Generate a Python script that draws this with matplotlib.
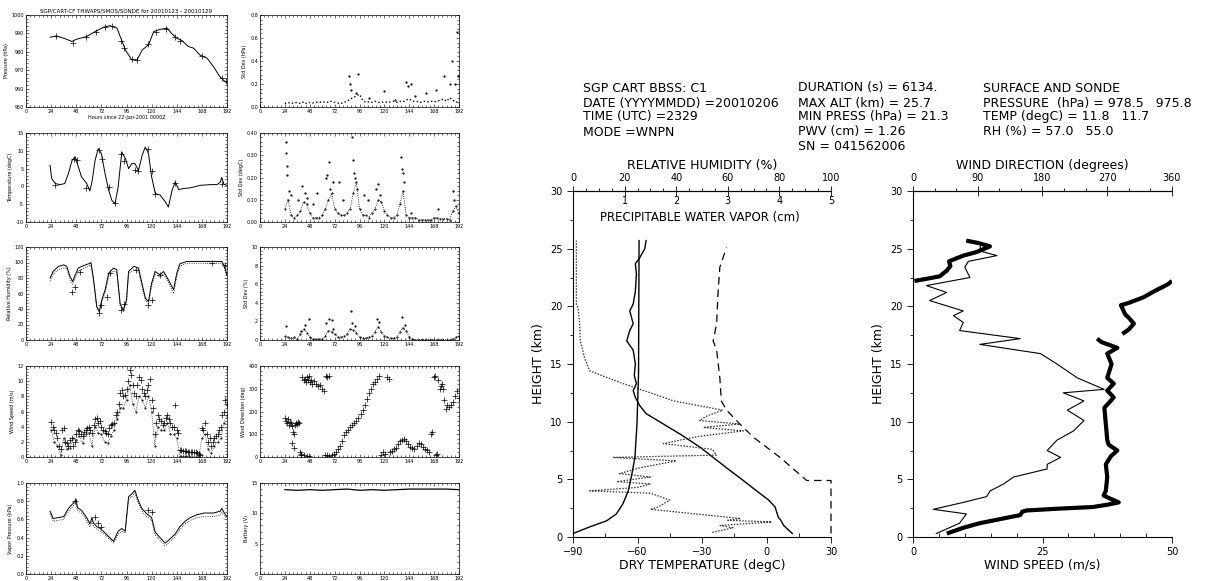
import matplotlib
matplotlib.use('Agg')
import matplotlib.pyplot as plt
from matplotlib.ticker import MultipleLocator, FormatStrFormatter

W, H = 1216, 581

# ---- small time-series panels (hours since 22-Jan-2001 0000Z) ----
SAMPLE_HOURS = [24, 27, 30, 33, 36, 39, 42, 45, 48, 51, 54, 57, 60, 63, 66, 69, 72, 75, 78, 81,
                84, 87, 90, 93, 96, 99, 102, 105, 108, 111, 114, 117, 120, 123, 126, 129, 132,
                135, 138, 141, 144, 147, 150, 153, 156, 159, 162, 165, 168, 171, 174, 177, 180,
                183, 186, 189, 192]
MID_HOURS = [25.5, 28.5, 31.5, 34.5, 37.5, 40.5, 43.5, 46.5, 49.5, 52.5, 55.5, 58.5, 61.5, 64.5,
             67.5, 70.5, 73.5, 76.5, 79.5, 82.5, 85.5, 88.5, 91.5, 94.5, 97.5, 100.5, 103.5,
             106.5, 109.5, 112.5, 115.5, 118.5, 121.5, 124.5, 127.5, 130.5, 133.5, 136.5, 139.5,
             142.5, 145.5, 148.5, 151.5, 154.5, 157.5, 160.5, 163.5, 166.5, 169.5, 172.5, 175.5,
             178.5, 181.5, 184.5, 187.5, 190.5]

PRESS_HOURS = [23, 29, 36, 44, 48, 58, 66, 74, 80, 87, 90, 95, 101, 106, 111, 117, 122, 128, 135,
               139, 144, 149, 155, 160, 166, 173, 179, 185, 190, 192]
PRESS_HPA = [987.9, 988.6, 987.4, 985.6, 986.8, 988.3, 991.0, 993.3, 994.2, 992.8, 988.3, 981.0,
             975.6, 975.6, 981.0, 983.8, 991.0, 992.2, 992.8, 990.0, 987.4, 986.1, 982.9, 982.0,
             978.3, 976.5, 972.0, 966.6, 963.9, 963.0]
PRESS_SONDE_HOURS = [29, 45, 57, 67, 75, 82, 91, 94, 101, 106, 117, 124, 134, 142, 147, 168, 187, 191]
PRESS_SONDE_HPA = [988.5, 985.0, 988.0, 991.0, 993.5, 993.8, 986.0, 982.0, 976.0, 975.5, 984.0,
                   991.0, 992.6, 988.0, 986.0, 977.5, 966.0, 964.0]

PSD_HPA = [0.03, 0.04, 0.03, 0.035, 0.04, 0.03, 0.045, 0.03, 0.04, 0.035, 0.04, 0.045, 0.04,
           0.045, 0.04, 0.05, 0.04, 0.035, 0.03, 0.04, 0.05,
           0.07, 0.08, 0.1, 0.11, 0.06,
           0.04, 0.045, 0.04, 0.05, 0.04, 0.04, 0.045,
           0.04, 0.045, 0.05, 0.04, 0.05, 0.045, 0.06,
           0.07, 0.05, 0.05, 0.045, 0.04, 0.05, 0.045,
           0.05, 0.045, 0.05, 0.06, 0.07, 0.05, 0.08, 0.06, 0.04, 0.05]
PSD_SPIKE_HOURS = [86, 87, 88, 93, 95, 105, 120, 130, 141, 143, 146, 150, 160, 170, 178, 183, 185,
                   188, 190, 191]
PSD_SPIKE_HPA = [0.27, 0.2, 0.15, 0.12, 0.29, 0.08, 0.14, 0.06, 0.22, 0.18, 0.2, 0.1, 0.12, 0.15,
                 0.27, 0.2, 0.4, 0.2, 0.65, 0.27]

TEMP_HOURS = [23, 24.5, 28, 32.5, 37, 40.5, 44, 47, 50, 53, 58, 61, 63, 66, 69, 72, 75.5, 79, 82,
              85, 88, 91.5, 95, 98, 101, 104, 107.5, 111, 114, 117, 120, 123.5, 128, 133, 136,
              139.5, 142.5, 146, 150.5, 157, 166.5, 176, 182.5, 185.5, 187, 189, 192]
TEMP_DEGC = [5.9, 2.2, 0.8, 0.5, 0.8, 3.6, 7.3, 8.3, 5.5, 2.7, 0.8, -1.3, 1.2, 7.3, 10.6, 9.2,
             3.6, -1.1, -3.9, -4.9, -0.2, 9.6, 7.8, 5.0, 6.4, 6.4, 4.5, 8.8, 11.1, 9.2, 2.7, -2.0,
             -2.4, -4.3, -5.8, -1.1, 1.2, -0.9, -0.6, -0.4, 0.3, 0.5, 0.5, 1.2, 2.5, 0.6, 0.3]
TEMP_SONDE_HOURS = [28, 46, 49, 57, 70, 73, 79, 85, 91, 94, 104, 107, 117, 120, 123, 142, 187]
TEMP_SONDE_DEGC = [0.5, 7.8, 7.5, -0.5, 10.2, 7.8, -0.1, -4.6, 9.2, 7.2, 4.6, 4.2, 10.4, 4.3,
                   -2.1, 1.0, 0.6]

TSD_DEGC = [0.06, 0.1, 0.03, 0.02, 0.03, 0.05, 0.09, 0.08, 0.04, 0.02, 0.02, 0.02, 0.03, 0.06,
            0.1, 0.13, 0.06, 0.04, 0.03, 0.03, 0.04, 0.06, 0.13, 0.18, 0.06, 0.03, 0.03, 0.02,
            0.04, 0.06, 0.1, 0.09, 0.05, 0.03, 0.02, 0.02, 0.03, 0.08, 0.14, 0.03, 0.02, 0.02,
            0.02, 0.01, 0.01, 0.01, 0.01, 0.01, 0.02, 0.02, 0.015, 0.015, 0.015, 0.01, 0.05,
            0.07, 0.04]
TSD_SPIKE_HOURS = [25, 25.5, 26, 26.5, 28, 30, 37, 41, 43, 45, 51, 55, 64, 65, 67, 68, 70, 76, 80,
                   89, 90, 91, 92, 94, 100, 104, 112, 114, 116, 136, 137, 138, 139, 146, 172, 186,
                   187]
TSD_SPIKE_DEGC = [0.36, 0.31, 0.25, 0.21, 0.14, 0.12, 0.1, 0.16, 0.13, 0.11, 0.08, 0.13, 0.2, 0.21,
                  0.27, 0.15, 0.18, 0.18, 0.1, 0.38, 0.28, 0.22, 0.2, 0.15, 0.12, 0.1, 0.15, 0.17,
                  0.12, 0.29, 0.24, 0.22, 0.18, 0.04, 0.06, 0.14, 0.1]

RH_HOURS = [23, 26, 31, 36, 39, 42, 44.6, 47, 50, 55, 60, 62, 64.4, 67.6, 70, 72.4, 75.6, 79, 83.6,
            86.7, 90, 93, 96, 98, 103, 107.5, 110.7, 114, 117, 120, 123.4, 128, 131.4, 136, 141,
            144, 147, 153.6, 166.5, 179, 187, 189, 192]
RH_PCT = [79.9, 88.5, 95, 97, 95, 82, 75.5, 84, 93, 96, 98.4, 100, 80, 43, 36.7, 51.8, 64.8, 86.3,
          92.8, 90.7, 46, 38.9, 51.8, 88.5, 95, 92.8, 73.4, 54, 49.6, 73.4, 88.5, 84, 88.5, 77.7,
          64.8, 86.3, 98.4, 101.4, 101.4, 101.4, 101.4, 97, 84]
RH_PCT_ALT = [76, 85, 91, 93, 92, 79, 72, 80, 89, 92, 95, 97, 77, 41, 35, 49, 61, 82, 89, 87, 44,
              37, 49, 85, 91, 89, 70, 51, 47, 70, 85, 81, 85, 74, 60, 82, 95, 99, 99, 99, 99, 95, 82]
RH_SONDE_HOURS = [44, 47, 52, 70, 72, 77, 80, 91, 94, 105, 117, 120, 128, 178, 190]
RH_SONDE_PCT = [62, 68, 88, 35, 45, 56, 86, 39, 47, 90, 45, 52, 84, 99, 97]

RHSD_PCT = [0.4, 0.3, 0.2, 0.3, 0.1, 0.6, 1.2, 0.8, 0.3, 0.1, 0.1, 0.1, 0.1, 0.4, 1.0, 0.9, 0.6,
            0.3, 0.3, 0.4, 0.6, 1.2, 1.1, 0.8, 0.3, 0.2, 0.2, 0.3, 0.4, 0.9, 1.4, 0.9, 0.4, 0.3,
            0.2, 0.2, 0.3, 0.9, 1.3, 1.0, 0.3, 0.1, 0.05, 0.05, 0.05, 0.05, 0.05, 0.05, 0.05,
            0.05, 0.05, 0.05, 0.05, 0.05, 0.1, 0.3, 0.4]
RHSD_SPIKE_HOURS = [25, 40, 43, 47, 64, 67, 69, 70, 88, 89, 92, 113, 115, 137, 140]
RHSD_SPIKE_PCT = [1.5, 1.0, 1.6, 2.3, 1.8, 2.3, 2.2, 1.2, 3.1, 1.8, 1.5, 2.3, 1.9, 2.5, 1.6]

WIND_PLUS_MS = [4.6, 3.6, 2.5, 1.0, 3.8, 1.8, 2.2, 1.5, 3.0, 3.4, 2.8, 3.6, 4.0, 3.2, 5.0, 4.5,
                4.0, 3.4, 3.0, 4.2, 4.5, 6.0, 8.5, 8.0, 9.0, 11.5, 9.5, 8.0, 10.5, 9.0, 8.0, 9.5,
                7.5, 3.0, 5.5, 4.8, 4.5, 5.5, 4.5, 4.0, 3.5, 0.9, 0.8, 0.8, 0.7, 0.7, 0.6, 0.4,
                3.8, 4.5, 2.0, 1.5, 2.5, 3.0, 4.0, 6.0, 7.0]
WIND_PLUS_MID_MS = [4.0, 3.2, 1.5, 3.5, 2.0, 1.5, 2.5, 2.0, 3.5, 3.0, 3.3, 3.8, 3.5, 4.2, 5.2, 4.8,
                    3.5, 3.2, 3.8, 4.3, 5.5, 7.0, 8.8, 8.2, 10.0, 10.8, 8.5, 9.5, 10.2, 8.5, 8.8,
                    10.3, 6.5, 4.5, 5.0, 4.2, 5.2, 5.0, 4.0, 6.9, 3.2, 0.9, 0.8, 0.7, 0.7, 0.6,
                    0.5, 0.3, 3.5, 3.0, 2.5, 2.0, 2.8, 3.5, 5.5, 7.5]
WIND_DOTS_MS = [3.5, 2.0, 1.5, 0.3, 2.5, 1.0, 1.2, 2.5, 2.2, 2.8, 1.8, 3.0, 3.2, 1.5, 4.0, 3.2,
                3.0, 2.0, 1.8, 2.8, 3.5, 5.0, 6.5, 6.5, 7.5, 9.5, 7.0, 6.0, 8.0, 7.5, 6.5, 8.0,
                6.0, 1.5, 4.0, 3.5, 3.5, 4.5, 3.0, 3.0, 2.5, 0.1, 0.1, 0.1, 0.1, 0.0, 0.0, 0.0,
                2.5, 3.0, 1.0, 0.5, 1.5, 2.0, 2.5, 4.5, 5.5]

WDIR_HOURS = [24, 25, 26, 27, 28, 29, 30, 31, 32, 33, 34, 35, 36, 37, 38, 31, 33,
              39, 40, 41, 42, 43, 44, 45, 46, 47, 48, 49, 50, 52, 54, 56, 58, 60, 62, 64, 65, 67,
              40, 42, 45, 47,
              63, 65, 67, 69, 71, 73, 75, 77, 79, 81, 83, 85, 87, 89, 91, 93, 95, 97, 99, 101, 103,
              105, 107, 109, 111, 113, 115,
              117, 119, 121, 123, 124, 125, 127, 129, 131, 133, 135, 137, 139, 141, 143, 145, 147,
              149, 151, 153, 155, 157, 159, 161, 163, 165, 166, 168, 169, 170, 171, 172, 174, 175,
              176, 177, 178, 179, 180, 182, 184, 186, 188, 190, 192]
WDIR_DEG = [170, 160, 150, 165, 140, 155, 150, 135, 110, 100, 140, 150, 145, 155, 150, 60, 40,
            20, 10, 350, 340, 345, 330, 350, 340, 355, 330, 340, 320, 335, 320, 310, 315, 300, 290,
            355, 350, 355,
            15, 8, 5, 3,
            10, 8, 5, 10, 12, 20, 35, 50, 70, 95, 110, 120, 130, 140, 150, 160, 170, 190, 205,
            230, 255, 280, 300, 320, 330, 345, 355,
            10, 20, 15, 350, 345, 20, 25, 35, 40, 55, 70, 75, 80, 70, 55, 45, 40, 35, 50, 60, 55,
            45, 35, 30, 20, 100, 110, 350, 355, 10, 15, 340, 300, 310, 320, 300, 250, 210, 230,
            220, 230, 240, 270, 290, 260]

VP_HOURS = [23, 26, 31, 36, 40.5, 45.3, 48, 49, 53, 58, 61, 63, 64.4, 67.6, 71, 75.6, 80, 83.6, 88,
            91.5, 94.7, 98, 101, 104, 107.5, 110.7, 115.5, 120, 123.4, 128, 133, 138, 142.5, 147,
            152, 157, 163, 170, 179, 185.6, 187, 189.5, 192]
VP_KPA = [0.69, 0.61, 0.62, 0.63, 0.72, 0.78, 0.82, 0.73, 0.70, 0.62, 0.55, 0.62, 0.56, 0.52, 0.50,
          0.45, 0.40, 0.36, 0.47, 0.50, 0.47, 0.85, 0.88, 0.92, 0.80, 0.72, 0.66, 0.62, 0.46, 0.40,
          0.34, 0.39, 0.44, 0.52, 0.58, 0.62, 0.65, 0.67, 0.67, 0.69, 0.72, 0.67, 0.63]
VP_KPA_ALT = [0.66, 0.58, 0.59, 0.60, 0.69, 0.75, 0.79, 0.70, 0.67, 0.59, 0.52, 0.58, 0.53, 0.49,
              0.47, 0.43, 0.38, 0.34, 0.44, 0.47, 0.45, 0.82, 0.85, 0.89, 0.77, 0.69, 0.63, 0.59,
              0.43, 0.37, 0.31, 0.36, 0.41, 0.49, 0.55, 0.59, 0.62, 0.63, 0.63, 0.65, 0.68, 0.64,
              0.61]
VP_SONDE_HOURS = [47, 66, 69, 72, 117, 120]
VP_SONDE_KPA = [0.80, 0.63, 0.56, 0.52, 0.70, 0.68]

BATT_HOURS = [24, 36, 48, 60, 72, 84, 96, 108, 120, 132, 144, 156, 168, 180, 192]
BATT_V = [13.9, 13.8, 13.9, 13.8, 13.9, 14.0, 13.8, 13.9, 13.8, 13.9, 14.0, 14.0, 14.0, 14.0, 13.9]

# ---- balloon sounding ----
T_HEIGHT = [0.3, 1.0, 1.5, 1.7, 2.0, 2.6, 3.2, 4.0, 5.0, 6.0, 7.0, 7.8, 8.9, 9.8, 10.7, 11.4, 12.1,
            12.7, 13.3, 14.0, 15.0, 16.2, 17.0, 17.9, 18.5, 19.6, 20.2, 21.3, 22.8, 23.7, 24.2,
            25.0, 25.7]
T_DEGC = [12.0, 8.0, 6.5, 5.5, 5.0, 4.0, 1.0, -4.6, -11.5, -18.6, -25.5, -31.0, -40.0, -48.0,
          -56.0, -59.0, -61.0, -62.0, -60.5, -61.5, -61.0, -62.0, -65.0, -63.6, -62.0, -63.6,
          -62.0, -61.0, -60.5, -61.0, -59.0, -56.6, -56.0]

RH_HEIGHT = [0.4, 0.8, 1.0, 1.3, 1.45, 1.6, 2.4, 2.6, 3.2, 3.8, 4.0, 4.3, 4.6, 4.8, 5.2, 5.5, 6.0,
             6.6, 6.9, 7.1, 7.6, 8.1, 8.7, 9.2, 9.5, 9.8, 10.1, 10.5, 11.0, 11.8, 12.5, 13.3, 14.4,
             15.5, 16.7, 17.0, 18.5, 19.9, 20.2, 25.7]
RH_PROFILE = [54, 62, 57, 77, 60, 65, 30, 33, 37.5, 30, 6.5, 25, 30, 17, 30, 18, 26, 40, 15.5,
              55.6, 54, 35, 48, 66, 50.5, 64.7, 49, 52, 58, 39, 30, 19.4, 6.5, 4.5, 3.2, 2.8, 2.6,
              1.9, 1.3, 1.3]

PWV_HEIGHT = [0.3, 0.87, 1.4, 2.0, 2.9, 4.0, 5.2, 6.9, 9.8, 14.1, 25.7]
PWV_CM = [0.0, 0.32, 0.65, 0.84, 0.97, 1.07, 1.13, 1.20, 1.24, 1.27, 1.28]

DASH_HEIGHT = [0.3, 4.9, 4.9, 6.9, 8.65, 9.8, 11.0, 11.8, 13.8, 16.2, 17.0, 18.5, 21.3, 23.4, 25.1]
DASH_DEGC = [30, 30, 18.7, 6.3, -6.1, -12.4, -18.6, -21.0, -21.7, -23.2, -24.8, -23.2, -22.5,
             -21.7, -18.6]

WS_HEIGHT = [0.3, 1.2, 2.0, 2.4, 3.0, 3.5, 4.0, 4.6, 5.2, 5.9, 6.3, 6.9, 7.5, 8.4, 9.2, 10.1, 11.0,
             11.8, 12.5, 12.8, 13.8, 15.0, 15.9, 16.7, 17.2, 17.9, 18.6, 19.2, 19.6, 20.5, 21.2,
             21.8, 22.5, 23.4, 23.9, 24.4, 24.8, 25.2]
WS_MS = [4.5, 9.0, 10.3, 3.9, 9.7, 14.2, 14.9, 17.5, 19.4, 25.9, 25.9, 28.5, 25.9, 27.8, 31.0,
         33.0, 29.8, 33.0, 29.0, 36.9, 31.7, 27.8, 24.6, 12.9, 20.7, 9.0, 9.7, 7.8, 9.7, 3.2, 6.5,
         2.6, 11.0, 10.0, 10.7, 16.2, 12.9, 13.0]

WD_LOW_HEIGHT = [0.3, 0.8, 1.2, 1.6, 1.9, 2.2, 2.3, 2.45, 2.6, 2.8, 3.0, 3.3, 3.6, 4.0, 5.2, 6.3,
                 7.0, 7.5, 8.0, 8.4, 9.8, 11.2, 12.1, 12.7, 13.3, 13.8, 15.0, 15.9, 16.4, 16.9, 17.2]
WD_LOW_DEG = [47, 70, 93, 125, 149, 152, 158, 200, 250, 270, 286, 275, 265, 268, 270, 268, 275,
              284, 272, 270, 268, 266, 279, 270, 279, 270, 276, 270, 284, 262, 256]
WD_MID_HEIGHT = [17.6, 18.0, 18.5, 19.0, 19.3, 19.7, 20.1, 20.3, 20.8, 21.3, 21.9, 22.2]
WD_MID_DEG = [291, 300, 307, 300, 295, 292, 289, 300, 321, 335, 354, 360]
WD_TOP_HEIGHT = [22.2, 22.4, 22.6, 23.1, 23.5, 23.9, 24.4, 24.7, 25.2, 25.5, 25.7]
WD_TOP_DEG = [2, 20, 37, 47, 52, 50, 70, 88, 107, 90, 74]


def px_axes(fig, x0, y0, x1, y1):
    return fig.add_axes([x0 / W, 1 - y1 / H, (x1 - x0) / W, (y1 - y0) / H])


def small_panel(ax, ylim, ystep, fmt, ylabel):
    ax.set_xlim(0, 192)
    ax.set_ylim(*ylim)
    ax.xaxis.set_major_locator(MultipleLocator(24))
    ax.xaxis.set_minor_locator(MultipleLocator(4))
    ax.yaxis.set_major_locator(MultipleLocator(ystep))
    ax.yaxis.set_minor_locator(MultipleLocator(ystep / 5))
    ax.yaxis.set_major_formatter(FormatStrFormatter(fmt))
    ax.tick_params(which='both', direction='in', top=True, right=True, width=0.4,
                   labelsize=3.5, pad=1.5)
    ax.tick_params(which='major', length=2.5)
    ax.tick_params(which='minor', length=1.2)
    for s in ax.spines.values():
        s.set_linewidth(0.5)
    ax.set_ylabel(ylabel, fontsize=3.5, labelpad=2)


fig = plt.figure(figsize=(W / 100, H / 100), dpi=100)

rows = [(15, 107), (133, 222), (247, 340), (366, 457), (483, 574)]
col1 = (26, 227)
col2 = (260, 459)
dot = dict(ls='none', marker='.', ms=1.2, color='black')
plus = dict(ls='none', marker='+', ms=4, mew=0.5, color='black')

# pressure
ax = px_axes(fig, col1[0], rows[0][0], col1[1], rows[0][1])
small_panel(ax, (950, 1000), 10, '%d', 'Pressure (hPa)')
ax.plot(PRESS_HOURS, PRESS_HPA, color='black', lw=0.7)
ax.plot(PRESS_SONDE_HOURS, PRESS_SONDE_HPA, **plus)
ax.set_title('SGP/CART-CF THWAPS/SMOS/SONDE for 20010123 - 20010129', fontsize=4, pad=2)
ax.set_xlabel('Hours since 22-Jan-2001 0000Z', fontsize=3.5, labelpad=1)

ax = px_axes(fig, col2[0], rows[0][0], col2[1], rows[0][1])
small_panel(ax, (0, 0.8), 0.2, '%.1f', 'Std Dev (hPa)')
ax.plot(SAMPLE_HOURS, PSD_HPA, color='black', lw=1.0, ls=':')
ax.plot(PSD_SPIKE_HOURS, PSD_SPIKE_HPA, **dot)

# temperature
ax = px_axes(fig, col1[0], rows[1][0], col1[1], rows[1][1])
small_panel(ax, (-10, 15), 5, '%d', 'Temperature (degC)')
ax.plot(TEMP_HOURS, TEMP_DEGC, color='black', lw=0.7)
ax.plot(TEMP_SONDE_HOURS, TEMP_SONDE_DEGC, **plus)

ax = px_axes(fig, col2[0], rows[1][0], col2[1], rows[1][1])
small_panel(ax, (0, 0.4), 0.1, '%.2f', 'Std Dev (degC)')
ax.plot(SAMPLE_HOURS, TSD_DEGC, color='black', lw=0.6, ls=':', marker='.', ms=1)
ax.plot(TSD_SPIKE_HOURS, TSD_SPIKE_DEGC, **dot)

# relative humidity
ax = px_axes(fig, col1[0], rows[2][0], col1[1], rows[2][1])
small_panel(ax, (0, 120), 20, '%d', 'Relative Humidity (%)')
ax.plot(RH_HOURS, RH_PCT, color='black', lw=0.7)
ax.plot(RH_HOURS, RH_PCT_ALT, color='black', lw=0.6, ls=':')
ax.plot(RH_SONDE_HOURS, RH_SONDE_PCT, **plus)

ax = px_axes(fig, col2[0], rows[2][0], col2[1], rows[2][1])
small_panel(ax, (0, 10), 2, '%d', 'Std Dev (%)')
ax.plot(SAMPLE_HOURS, RHSD_PCT, color='black', lw=0.6, ls=':', marker='.', ms=1)
ax.plot(RHSD_SPIKE_HOURS, RHSD_SPIKE_PCT, **dot)

# wind
ax = px_axes(fig, col1[0], rows[3][0], col1[1], rows[3][1])
small_panel(ax, (0, 12), 2, '%d', 'Wind Speed (m/s)')
ax.plot(SAMPLE_HOURS, WIND_DOTS_MS, color='black', lw=0.5, ls=':', marker='.', ms=1)
ax.plot(SAMPLE_HOURS, WIND_PLUS_MS, **plus)
ax.plot(MID_HOURS, WIND_PLUS_MID_MS, **plus)

ax = px_axes(fig, col2[0], rows[3][0], col2[1], rows[3][1])
small_panel(ax, (0, 400), 100, '%d', 'Wind Direction (deg)')
ax.plot(WDIR_HOURS, WDIR_DEG, **plus)

# vapor pressure / battery
ax = px_axes(fig, col1[0], rows[4][0], col1[1], rows[4][1])
small_panel(ax, (0, 1.0), 0.2, '%.1f', 'Vapor Pressure (kPa)')
ax.plot(VP_HOURS, VP_KPA, color='black', lw=0.7)
ax.plot(VP_HOURS, VP_KPA_ALT, color='black', lw=0.6, ls=':')
ax.plot(VP_SONDE_HOURS, VP_SONDE_KPA, **plus)

ax = px_axes(fig, col2[0], rows[4][0], col2[1], rows[4][1])
small_panel(ax, (0, 15), 5, '%d', 'Battery (V)')
ax.plot(BATT_HOURS, BATT_V, color='black', lw=0.9)

# ---- header text ----
hdr = dict(fontsize=9, va='center', ha='left', color='black')
col_a = ['SGP CART BBSS: C1', 'DATE (YYYYMMDD) =20010206', 'TIME (UTC) =2329', 'MODE =WNPN']
col_b = ['DURATION (s) = 6134.', 'MAX ALT (km) = 25.7', 'MIN PRESS (hPa) = 21.3',
         'PWV (cm) = 1.26', 'SN = 041562006']
col_c = ['SURFACE AND SONDE', 'PRESSURE  (hPa) = 978.5   975.8', 'TEMP (degC) = 11.8   11.7',
         'RH (%) = 57.0   55.0']
line_y = [88, 103, 117, 132, 146]
for i, s in enumerate(col_a):
    fig.text(583 / W, 1 - line_y[i] / H, s, **hdr)
for i, s in enumerate(col_b):
    fig.text(798 / W, 1 - line_y[i] / H, s, **hdr)
for i, s in enumerate(col_c):
    fig.text(983 / W, 1 - line_y[i] / H, s, **hdr)

# ---- temperature / humidity sounding ----
ax_t = px_axes(fig, 573, 191, 831, 537)
ax_t.set_xlim(-90, 30)
ax_t.set_ylim(0, 30)
ax_t.xaxis.set_major_locator(MultipleLocator(30))
ax_t.xaxis.set_minor_locator(MultipleLocator(15))
ax_t.yaxis.set_major_locator(MultipleLocator(5))
ax_t.yaxis.set_minor_locator(MultipleLocator(2.5))
ax_t.spines['right'].set_visible(False)
ax_t.tick_params(which='both', top=False, right=False, labelsize=7, width=0.6)
ax_t.tick_params(axis='y', which='major', direction='out', length=4)
ax_t.tick_params(axis='y', which='minor', direction='out', length=2)
ax_t.tick_params(axis='x', which='major', direction='out', length=4)
ax_t.tick_params(axis='x', which='minor', direction='in', length=3)
ax_t.set_xlabel('DRY TEMPERATURE (degC)', fontsize=9, labelpad=1)
ax_t.set_ylabel('HEIGHT (km)', fontsize=9, labelpad=4)
ax_t.plot(T_DEGC, T_HEIGHT, color='black', lw=1.0)
ax_t.plot(DASH_DEGC, DASH_HEIGHT, color='black', lw=0.9, ls=(0, (6, 4)), clip_on=False)
ax_t.text(0.49, 0.922, 'PRECIPITABLE WATER VAPOR (cm)', transform=ax_t.transAxes,
          fontsize=8.5, ha='center', va='center')

ax_rh = ax_t.twiny()
ax_rh.set_xlim(0, 100)
ax_rh.xaxis.set_major_locator(MultipleLocator(20))
ax_rh.xaxis.set_minor_locator(MultipleLocator(5))
ax_rh.tick_params(axis='x', which='major', direction='inout', length=7, width=0.6,
                  labelsize=7, pad=2)
ax_rh.tick_params(axis='x', which='minor', direction='out', length=2.5, width=0.6)
for s in ['left', 'right', 'bottom']:
    ax_rh.spines[s].set_visible(False)
ax_rh.set_xlabel('RELATIVE HUMIDITY (%)', fontsize=9, labelpad=3)
ax_rh.plot(RH_PROFILE, RH_HEIGHT, color='#333333', lw=0.9, ls=(0, (1.2, 1.2)))

ax_pwv = ax_t.twiny()
ax_pwv.set_xlim(0, 5)
ax_pwv.set_xticks([1, 2, 3, 4, 5])
ax_pwv.tick_params(axis='x', length=0, labelsize=7, pad=-11)
for s in ax_pwv.spines.values():
    s.set_visible(False)
ax_pwv.plot(PWV_CM, PWV_HEIGHT, color='black', lw=1.0)

# ---- wind sounding ----
ax_w = px_axes(fig, 913, 191, 1172, 537)
ax_w.set_xlim(0, 50)
ax_w.set_ylim(0, 30)
ax_w.set_xticks([0, 25, 50])
ax_w.xaxis.set_minor_locator(MultipleLocator(5))
ax_w.yaxis.set_major_locator(MultipleLocator(5))
ax_w.yaxis.set_minor_locator(MultipleLocator(2.5))
ax_w.spines['right'].set_visible(False)
ax_w.tick_params(which='both', top=False, right=False, labelsize=7, width=0.6)
ax_w.tick_params(axis='y', which='major', direction='out', length=4)
ax_w.tick_params(axis='y', which='minor', direction='out', length=2)
ax_w.tick_params(axis='x', which='major', direction='out', length=4)
ax_w.tick_params(axis='x', which='minor', direction='in', length=3)
ax_w.set_xlabel('WIND SPEED (m/s)', fontsize=9, labelpad=1)
ax_w.set_ylabel('HEIGHT (km)', fontsize=9, labelpad=4)
ax_w.plot(WS_MS, WS_HEIGHT, color='black', lw=0.8)

ax_d = ax_w.twiny()
ax_d.set_xlim(0, 360)
ax_d.xaxis.set_major_locator(MultipleLocator(90))
ax_d.xaxis.set_minor_locator(MultipleLocator(30))
ax_d.tick_params(axis='x', which='major', direction='inout', length=7, width=0.6,
                 labelsize=7, pad=2)
ax_d.tick_params(axis='x', which='minor', direction='out', length=2.5, width=0.6)
for s in ['left', 'right', 'bottom']:
    ax_d.spines[s].set_visible(False)
ax_d.set_xlabel('WIND DIRECTION (degrees)', fontsize=9, labelpad=3)
for hh, dd in [(WD_LOW_HEIGHT, WD_LOW_DEG), (WD_MID_HEIGHT, WD_MID_DEG),
               (WD_TOP_HEIGHT, WD_TOP_DEG)]:
    ax_d.plot(dd, hh, color='black', lw=3.0, solid_capstyle='butt')

fig.savefig('out.png', dpi=100)
